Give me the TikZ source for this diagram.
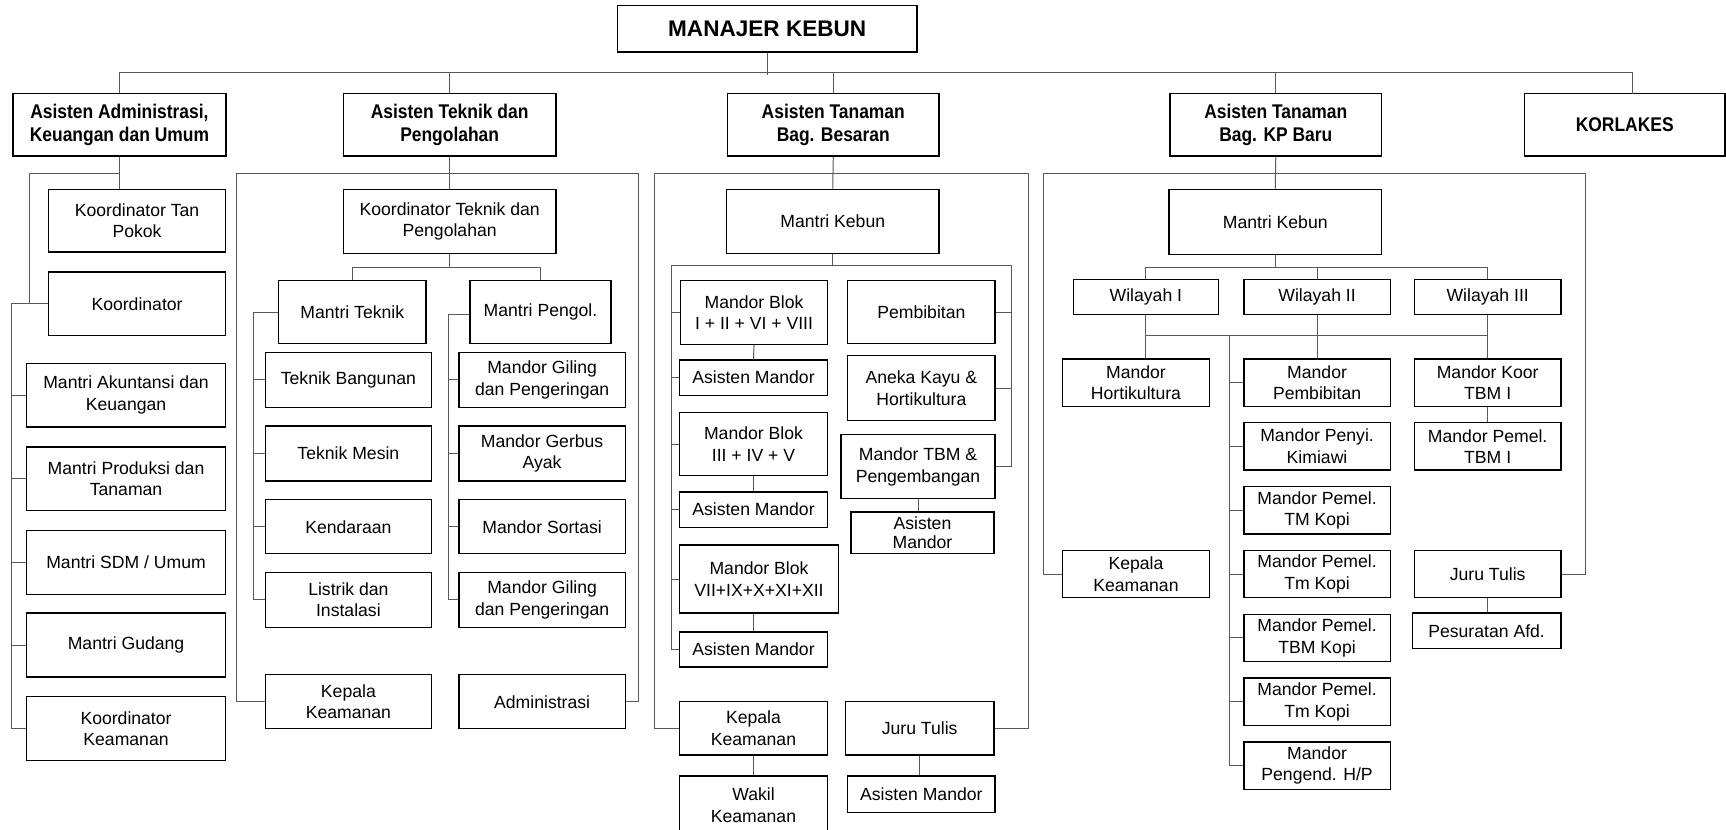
\documentclass[tikz,border=0pt]{standalone}
\usepackage{fontspec}
\setmainfont{Liberation Sans}
\newfontfamily\hdfont[FakeStretch=0.88]{Liberation Sans}
\newcommand\mkb[7][bx]{\node[#1,minimum width=#5pt,minimum height=#6pt] (#2) at (#3,#4) {#7};}
\tikzset{
  bx/.style={draw=black,line width=1.2pt,inner sep=1pt,align=center,font=\fontsize{16}{19.5}\selectfont},
  bxs/.style={bx,font=\fontsize{16}{18}\selectfont},
  hd/.style={draw=black,line width=1.6pt,inner sep=1pt,align=center,font=\hdfont\bfseries\fontsize{18}{21}\selectfont},
  top/.style={draw=black,line width=1.6pt,inner sep=1pt,align=center,font=\bfseries\fontsize{20.5}{24}\selectfont},
  ln/.style={draw=black!65,line width=0.9pt}
}
\begin{document}
\begin{tikzpicture}[x=1pt,y=-1pt]
\fill[white] (0,0) rectangle (1568,754);
\useasboundingbox (0,0) rectangle (1568,754);
% top level
\mkb[top]{mk}{697}{26}{272}{42}{MANAJER KEBUN}
\mkb[hd]{a1}{108.5}{113.5}{193}{57}{Asisten Administrasi,\\Keuangan dan Umum}
\mkb[hd]{a2}{408.5}{113.5}{193}{57}{Asisten Teknik dan\\Pengolahan}
\mkb[hd]{a3}{757}{113.5}{192}{57}{Asisten Tanaman\\Bag. Besaran}
\mkb[hd]{a4}{1159}{113.5}{192}{57}{Asisten Tanaman\\Bag. KP Baru}
\mkb[hd]{a5}{1476}{113.5}{182}{57}{KORLAKES}
% admin column
\mkb{b1}{124.5}{200.5}{161}{57}{Koordinator Tan\\Pokok}
\mkb{b2}{124.5}{276}{161}{58}{Koordinator}
\mkb{b3}{114.5}{359}{181}{58}{Mantri Akuntansi dan\\Keuangan}
\mkb{b4}{114.5}{435}{181}{58}{Mantri Produksi dan\\Tanaman}
\mkb{b5}{114.5}{511}{181}{58}{Mantri SDM / Umum}
\mkb{b6}{114.5}{586}{181}{58}{Mantri Gudang}
\mkb{b7}{114.5}{662}{181}{58}{Koordinator\\Keamanan}
% teknik column
\mkb{c1}{408.5}{201}{193}{58}{Koordinator Teknik dan\\Pengolahan}
\mkb{c2}{320}{283.5}{134}{57}{Mantri Teknik}
\mkb{c3}{491}{283.5}{128}{57}{Mantri Pengol.}
\mkb{c4}{316.5}{345}{151}{50}{Teknik Bangunan}
\mkb{c5}{316.5}{412}{151}{50}{Teknik Mesin}
\mkb{c6}{316.5}{478.5}{151}{49}{Kendaraan}
\mkb{c7}{316.5}{545}{151}{50}{Listrik dan\\Instalasi}
\mkb{c8}{492.5}{345}{151}{50}{Mandor Giling\\dan Pengeringan}
\mkb{c9}{492.5}{412}{151}{50}{Mandor Gerbus\\Ayak}
\mkb{c10}{492.5}{478.5}{151}{49}{Mandor Sortasi}
\mkb{c11}{492.5}{545}{151}{50}{Mandor Giling\\dan Pengeringan}
\mkb{c12}{316.5}{637.5}{151}{49}{Kepala\\Keamanan}
\mkb{c13}{492.5}{637.5}{151}{49}{Administrasi}
% besaran column
\mkb{d1}{756.5}{201}{193}{58}{Mantri Kebun}
\mkb{d2}{685}{284}{134}{58}{Mandor Blok\\I + II + VI + VIII}
\mkb{d3}{684.5}{343}{135}{32}{Asisten Mandor}
\mkb{d4}{684.5}{403.5}{135}{57}{Mandor Blok\\III + IV + V}
\mkb{d5}{684.5}{463}{135}{32}{Asisten Mandor}
\mkb{d6}{689.5}{526}{145}{62}{Mandor Blok\\VII+IX+X+XI+XII}
\mkb{d7}{684.5}{590}{135}{32}{Asisten Mandor}
\mkb{d8}{837}{283.5}{134}{57}{Pembibitan}
\mkb{d9}{837}{352.5}{134}{59}{Aneka Kayu \&\\Hortikultura}
\mkb{d10}{834}{424}{140}{58}{Mandor TBM \&\\Pengembangan}
\mkb[bxs]{d11}{838}{484}{130}{38}{Asisten\\Mandor}
\mkb{d12}{684.5}{661.5}{135}{49}{Kepala\\Keamanan}
\mkb{d13}{684.5}{731.5}{135}{53}{Wakil\\Keamanan}
\mkb{d14}{835.5}{661.5}{135}{49}{Juru Tulis}
\mkb{d15}{837}{721.5}{134}{33}{Asisten Mandor}
% KP baru column
\mkb{e1}{1158.5}{201.5}{193}{59}{Mantri Kebun}
\mkb{e2}{1041}{270}{132}{32}{Wilayah I}
\mkb{e3}{1196.5}{270}{133}{32}{Wilayah II}
\mkb{e4}{1351.5}{270}{133}{32}{Wilayah III}
\mkb{e5}{1032}{347.5}{134}{43}{Mandor\\Hortikultura}
\mkb{e6}{1196.5}{347.5}{133}{43}{Mandor\\Pembibitan}
\mkb{e7}{1196.5}{405.5}{133}{43}{Mandor Penyi.\\Kimiawi}
\mkb{e8}{1196.5}{463.5}{133}{43}{Mandor Pemel.\\TM Kopi}
\mkb{e9}{1196.5}{521.5}{133}{43}{Mandor Pemel.\\Tm Kopi}
\mkb{e10}{1196.5}{579.5}{133}{43}{Mandor Pemel.\\TBM Kopi}
\mkb{e11}{1196.5}{637.5}{133}{43}{Mandor Pemel.\\Tm Kopi}
\mkb{e12}{1196.5}{695.5}{133}{43}{Mandor\\Pengend. H/P}
\mkb{e13}{1351.5}{347.5}{133}{43}{Mandor Koor\\TBM I}
\mkb{e14}{1351.5}{405.5}{133}{43}{Mandor Pemel.\\TBM I}
\mkb{e15}{1032}{521.5}{134}{43}{Kepala\\Keamanan}
\mkb{e16}{1351.5}{521.5}{133}{43}{Juru Tulis}
\mkb{e17}{1350.5}{573}{135}{32}{Pesuratan Afd.}
% ---------- connectors ----------
% top
\coordinate (kd) at (1483,85);
\draw[ln] (mk.south) -- ++(0,20);
\draw[ln] (a1.north) -- ++(0,-18) -| (kd);
\foreach \n in {a2,a3,a4} \draw[ln] (\n.north) -- ++(0,-18);
% admin
\coordinate (ab) at (27,158);
\coordinate (al) at (10,276);
\draw[ln] (a1.south) -- (a1.south |- b1.north);
\draw[ln] (a1.south |- ab) -- (ab) |- (b2.west);
\draw[ln] (al) -- (b2.west);
\draw[ln] (al) |- (b7.west);
\foreach \n in {b3,b4,b5,b6} \draw[ln] (al |- \n.west) -- (\n.west);
% teknik
\coordinate (tl) at (215,158);
\coordinate (tr) at (580,158);
\draw[ln] (a2.south) -- (c1.north);
\draw[ln] (c12.west) -| (tl) -- (tr) |- (c13.east);
\draw[ln] (c1.south) -- ++(0,12) coordinate (cm);
\draw[ln] (c2.north) |- (cm) -| (c3.north);
\coordinate (tk) at (230,283.5);
\draw[ln] (c2.west) -- (tk) |- (c7.west);
\foreach \n in {c4,c5,c6} \draw[ln] (tk |- \n.west) -- (\n.west);
\coordinate (pk) at (407,286);
\draw[ln] (c3.west |- pk) -- (pk) |- (c11.west);
\foreach \n in {c8,c9,c10} \draw[ln] (pk |- \n.west) -- (\n.west);
% besaran
\coordinate (bl) at (595,158);
\coordinate (br) at (934,158);
\draw[ln] (a3.south) -- (d1.north);
\draw[ln] (d12.west) -| (bl) -- (br) |- (d14.east);
\draw[ln] (d1.south) -- ++(0,11) coordinate (dm);
\coordinate (dl) at (610,241);
\coordinate (dr) at (919,241);
\draw[ln] (dl) -- (dr);
\draw[ln] (dl) |- (d7.west);
\foreach \n in {d2,d3,d4,d5,d6} \draw[ln] (dl |- \n.west) -- (\n.west);
\draw[ln] (dr) |- (d10.east);
\foreach \n in {d8,d9} \draw[ln] (dr |- \n.east) -- (\n.east);
\draw[ln] (d2.south) -- (d3.north);
\draw[ln] (d4.south) -- (d5.north);
\draw[ln] (d7.north |- d6.south) -- (d7.north);
\draw[ln] (d10.south) -- (d10.south |- d11.north);
\draw[ln] (d12.south) -- (d13.north);
\draw[ln] (d14.south) -- (d14.south |- d15.north);
% KP baru
\coordinate (kl) at (948,158);
\coordinate (kr) at (1440,158);
\draw[ln] (a4.south) -- (e1.north);
\draw[ln] (e15.west) -| (kl) -- (kr) |- (e16.east);
\draw[ln] (e1.south) -- ++(0,11) coordinate (em);
\draw[ln] (e2.north) |- (em) -| (e4.north);
\draw[ln] (e3.north) -- (e3.north |- em);
\draw[ln] (e2.south) -- (e2.south |- e5.north);
\draw[ln] (e3.south) -- (e6.north);
\draw[ln] (e4.south) -- (e13.north);
\coordinate (ev) at (1117,305);
\draw[ln] (e2.south |- ev) -- (e4.south |- ev);
\draw[ln] (ev) |- (e12.west);
\foreach \n in {e6,e7,e8,e9,e10,e11} \draw[ln] (ev |- \n.west) -- (\n.west);
\draw[ln] (e13.south) -- (e14.north);
\draw[ln] (e16.south) -- (e16.south |- e17.north);
\end{tikzpicture}
\end{document}
